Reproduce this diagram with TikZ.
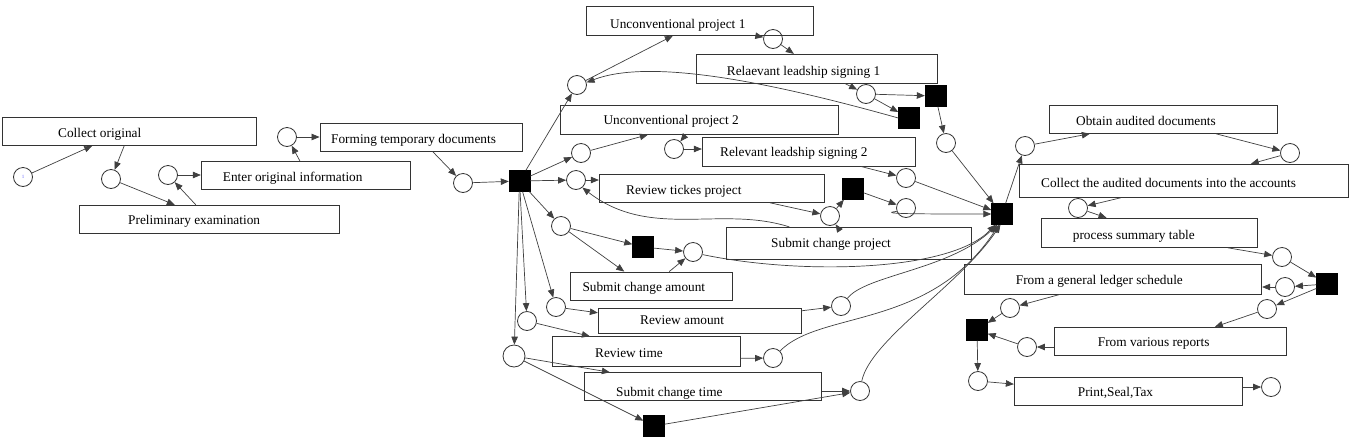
\documentclass[tikz,border=0pt]{standalone}
\usepackage{fontspec}
\setmainfont{Liberation Serif}
\usetikzlibrary{arrows.meta,calc}
\newcommand\pbox[5]{\node[box,minimum width={(#4-#2)*1pt},minimum height={(#5-#3)*1pt}] (#1) at ({(#2+#4)/2},{(#3+#5)/2}) {};}
\begin{document}
\begin{tikzpicture}[x=1pt,y=-1pt,
  place/.style={circle,draw=black!80,line width=0.8pt,minimum size=19pt,inner sep=0pt},
  trans/.style={rectangle,fill=black,draw=black,minimum size=21pt,inner sep=0pt},
  box/.style={rectangle,draw=black!80,line width=0.9pt,inner sep=0pt},
  lbl/.style={anchor=west,inner sep=0pt,yshift=-2.5pt,text height=0.7em,text depth=0.2em,font=\fontsize{13.3}{15}\selectfont},
  arc/.style={draw=black!75,line width=0.7pt,-{Triangle[length=8pt,width=6.5pt]}},
]
\useasboundingbox (0,0) rectangle (1357,440);
% ---------- boxes ----------
\pbox{bCO}{2.7}{117.3}{256.7}{145.3}
\pbox{bPE}{79.3}{205.3}{339.3}{233.3}
\pbox{bEO}{201.3}{161.3}{410}{189.3}
\pbox{bFT}{320}{123}{522}{151}
\pbox{bU1}{586.3}{6}{813.3}{35.3}
\pbox{bR1}{696.3}{54.3}{937.3}{83}
\pbox{bU2}{560.3}{105.3}{838.3}{134.3}
\pbox{bR2}{702.3}{137.3}{915.7}{166}
\pbox{bRT}{599.3}{174}{824.3}{202.3}
\pbox{bSCP}{726.7}{227.3}{971.7}{259.3}
\pbox{bSCA}{570.7}{272}{732.3}{300}
\pbox{bRA}{598.3}{308.3}{801}{333.3}
\pbox{bRTm}{552.3}{336.7}{740}{366}
\pbox{bSCT}{584.3}{372.7}{821.7}{400}
\pbox{bOb}{1049.3}{105.3}{1277.3}{133.3}
\pbox{bCA}{1019.3}{164.3}{1348.3}{197.3}
\pbox{bPS}{1041}{218.3}{1257.3}{247.3}
\pbox{bGL}{964.3}{264.3}{1261.7}{294}
\pbox{bVR}{1054.3}{327.3}{1286}{355}
\pbox{bPr}{1014.3}{377.3}{1242.3}{405}
% ---------- labels ----------
\node[lbl] (tCO) at (58,132) {Collect original};
\node[lbl] (tPE) at (128,219.3) {Preliminary examination};
\node[lbl] (tEO) at (222.7,176.7) {Enter original information};
\node[lbl] (tFT) at (331,138.7) {Forming temporary documents};
\node[lbl] (tU1) at (610,23.3) {Unconventional project 1};
\node[lbl] (tR1) at (726.7,70) {Relaevant leadship signing 1};
\node[lbl] (tU2) at (603.3,119.3) {Unconventional project 2};
\node[lbl] (tR2) at (720,151.7) {Relevant leadship signing 2};
\node[lbl] (tRT) at (626,189) {Review tickes project};
\node[lbl] (tSCP) at (771,242.7) {Submit change project};
\node[lbl] (tSCA) at (582.3,286.7) {Submit change amount};
\node[lbl] (tRA) at (640,319.3) {Review amount};
\node[lbl] (tRTm) at (595,352.7) {Review time};
\node[lbl] (tSCT) at (616,391) {Submit change time};
\node[lbl] (tOb) at (1076,120) {Obtain audited documents};
\node[lbl] (tCA) at (1041,182.7) {Collect the audited documents into the accounts};
\node[lbl] (tPS) at (1072.7,234) {process summary table};
\node[lbl] (tGL) at (1015.7,279) {From a general ledger schedule};
\node[lbl] (tVR) at (1097.7,341.7) {From various reports};
\node[lbl] (tPr) at (1077.7,391.7) {Print,Seal,Tax};
% ---------- places ----------
\node[place] (p0) at (23,177) {\fontsize{5}{5}\selectfont\color{blue!60}1};
\node[place] (p1) at (111,179) {};
\node[place] (p2) at (168,175) {};
\node[place] (p3) at (287,137) {};
\node[place] (p4) at (463,183) {};
\node[place] (pUL) at (577,85) {};
\node[place] (pU1o) at (773,39) {};
\node[place] (pR1o) at (866,94) {};
\node[place] (pT2o) at (946,143) {};
\node[place] (pU2i) at (581,153) {};
\node[place] (pU2o) at (674,149) {};
\node[place] (pR2o) at (906,178) {};
\node[place] (pRTi) at (576,180) {};
\node[place] (pRTo) at (830,216) {};
\node[place] (px) at (906,208) {};
\node[place] (pSCA) at (561,226) {};
\node[place] (pSCAo) at (693,252) {};
\node[place] (pRA) at (556,307) {};
\node[place] (pRAo) at (841,306) {};
\node[place] (pRT2) at (527,321) {};
\node[place] (pRTo2) at (773,358) {};
\node[place,minimum size=22pt] (pST) at (514,356) {};
\node[place] (pSCTo) at (860,391) {};
\node[place] (pOb) at (1025,146) {};
\node[place] (pOb2) at (1290,153) {};
\node[place] (pCol) at (1078,208) {};
\node[place] (pPst) at (1282,257) {};
\node[place] (pGl) at (1285,287) {};
\node[place] (pVr) at (1267,309) {};
\node[place] (pGl2) at (1010,308) {};
\node[place] (pVr2) at (1027,347) {};
\node[place] (pPr) at (978,381) {};
\node[place] (pEnd) at (1271,387) {};
% ---------- transitions ----------
\node[trans] (t1) at (519.5,181) {};
\node[trans] (t2) at (935.5,96) {};
\node[trans] (t3) at (909,118) {};
\node[trans] (t4) at (853,189) {};
\node[trans] (t5) at (643,247) {};
\node[trans] (t6) at (654,426) {};
\node[trans] (t8) at (1002,214) {};
\node[trans] (t9) at (1327,284) {};
\node[trans] (t10) at (977,330) {};
% ---------- arcs: left part ----------
\draw[arc] (p0) -- ([xshift=90pt]bCO.south west);
\draw[arc] ([xshift=122pt]bCO.south west) -- (p1);
\draw[arc] (p1) -- ([xshift=96pt]bPE.north west);
\draw[arc] ([xshift=117pt]bPE.north west) -- (p2);
\draw[arc] (p2) -- (p2 -| bEO.west);
\draw[arc] ([xshift=99pt]bEO.north west) -- (p3);
\draw[arc] (p3) -- (p3 -| bFT.west);
\draw[arc] ([xshift=113pt]bFT.south west) -- (p4);
\draw[arc] (p4) -- (t1);
% fan out of t1
\draw[arc] (t1) -- (pUL);
\draw[arc] (t1) -- (pU2i);
\draw[arc] (t1) -- (pRTi);
\draw[arc] (t1) -- (pSCA);
\draw[arc] (t1) -- (pRA);
\draw[arc] (t1) -- (pRT2);
\draw[arc] (t1) -- (pST);
% unconventional project 1
\draw[arc] (pUL) -- ([xshift=87pt]bU1.south west);
\draw[arc] ([xshift=170pt]bU1.south west) -- (pU1o);
\draw[arc] (pU1o) -- ([xshift=98pt]bR1.north west);
\draw[arc] ([xshift=149pt]bR1.south west) -- (pR1o);
\draw[arc] (pR1o) -- (t2);
\draw[arc] (pR1o) -- (t3);
\draw[arc] (t3.west) .. controls (770,82) and (650,58) .. (pUL.15);
\draw[arc] (t2) -- (pT2o);
\draw[arc] (pT2o) -- (t8);
% unconventional project 2
\draw[arc] (pU2i) -- ([xshift=88pt]bU2.south west);
\draw[arc] ([xshift=126pt]bU2.south west) -- (pU2o);
\draw[arc] (pU2o) -- (pU2o -| bR2.west);
\draw[arc] ([xshift=159pt]bR2.south west) -- (pR2o);
\draw[arc] (pR2o) -- (t8);
% review tickets
\draw[arc] (pRTi) -- (pRTi -| bRT.west);
\draw[arc] ([xshift=171pt]bRT.south west) -- (pRTo);
\draw[arc] (pRTo) -- (t4);
\draw[arc] ([xshift=111pt]bSCP.north west) -- (pRTo);
\draw[arc] ([xshift=63pt]bSCP.north west) .. controls (720,205) and (650,240) .. (pRTi.-50);
\draw[arc] (t4) -- (px);
\draw[arc] (px.200) .. controls (874,214) and (930,214) .. (t8.west);
% submit change amount
\draw[arc] (pSCA) -- (t5);
\draw[arc] (pSCA) -- ([xshift=54pt]bSCA.north west);
\draw[arc] (t5) -- (pSCAo);
\draw[arc] ([xshift=99pt]bSCA.north west) -- (pSCAo);
\draw[arc] (pSCAo.-15) .. controls (800,275) and (950,272) .. (t8.-122);
% review amount
\draw[arc] (pRA) -- ([yshift=8pt]bRA.west);
\draw[arc] ([yshift=10pt]bRA.east) -- (pRAo);
\draw[arc] (pRAo.50) .. controls (865,275) and (950,270) .. (t8.-114);
% review time
\draw[arc] (pRT2) -- ([xshift=38pt]bRTm.north west);
\draw[arc] ([yshift=-7pt]bRTm.east) -- (pRTo2);
\draw[arc] (pRTo2.45) .. controls (820,310) and (930,330) .. (t8.-106);
% submit change time
\draw[arc] (pST) -- ([xshift=26pt]bSCT.north west);
\draw[arc] (pST) -- (t6);
\draw[arc] (bSCT.east |- pSCTo) -- (pSCTo);
\draw[arc] (t6) -- (pSCTo);
\draw[arc] (pSCTo.80) .. controls (870,340) and (960,285) .. (t8.-98);
% right part
\draw[arc] (t8) -- (pOb);
\draw[arc] (pOb) -- ([xshift=41pt]bOb.south west);
\draw[arc] ([xshift=167pt]bOb.south west) -- (pOb2);
\draw[arc] (pOb2) -- ([xshift=232pt]bCA.north west);
\draw[arc] ([xshift=102pt]bCA.south west) -- (pCol);
\draw[arc] (pCol) -- ([xshift=66pt]bPS.north west);
\draw[arc] ([xshift=187pt]bPS.south west) -- (pPst);
\draw[arc] (pPst) -- (t9);
\draw[arc] (t9) -- (pGl);
\draw[arc] (pGl) -- (pGl -| bGL.east);
\draw[arc] (t9) -- (pVr);
\draw[arc] (pVr) -- ([xshift=161pt]bVR.north west);
\draw[arc] ([xshift=96pt]bGL.south west) -- (pGl2);
\draw[arc] (pGl2) -- (t10);
\draw[arc] (bVR.west |- pVr2) -- (pVr2);
\draw[arc] (pVr2) -- (t10);
\draw[arc] (t10) -- (pPr);
\draw[arc] (pPr) -- ([yshift=7pt]bPr.west);
\draw[arc] (bPr.east |- pEnd) -- (pEnd);
\end{tikzpicture}
\end{document}
